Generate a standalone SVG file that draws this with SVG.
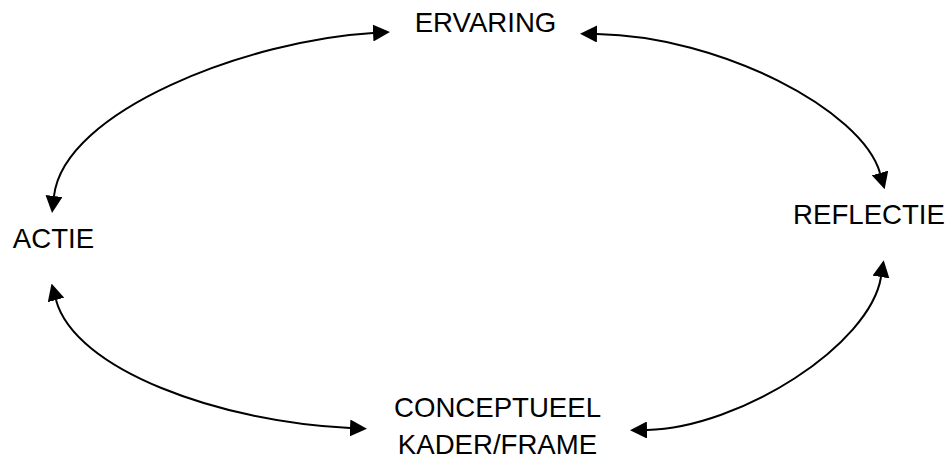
<svg xmlns="http://www.w3.org/2000/svg" width="949" height="459" viewBox="0 0 949 459">
<style>
.lbl{font-family:"Liberation Sans",Arial,sans-serif;font-size:27.6px;fill:#000;text-anchor:middle}
.arc{fill:none;stroke:#000;stroke-width:2;marker-start:url(#ah);marker-end:url(#ah)}
</style>
<defs>
<marker id="ah" markerUnits="userSpaceOnUse" markerWidth="17" markerHeight="17" viewBox="0 -8 16 16" refX="0" refY="0" orient="auto-start-reverse">
<path d="M0,-8 L16,0 L0,8 z" fill="#000"/>
</marker>
</defs>
<rect width="949" height="459" fill="#fff"/>
<g id="connectors">
<path class="arc" d="M373,33 C250,40 64,110 54,196"/>
<path class="arc" d="M597,34 C720,36 862,110 880,173"/>
<path class="arc" d="M881,277 C870,345 740,428 647,430"/>
<path class="arc" d="M56,300 C75,370 220,422 350,428"/>
</g>
<g id="ervaring"><text class="lbl" x="485.5" y="32">ERVARING</text></g>
<g id="actie"><text class="lbl" x="53.5" y="248">ACTIE</text></g>
<g id="reflectie"><text class="lbl" x="869" y="224">REFLECTIE</text></g>
<g id="conceptueel"><text class="lbl" x="497.5" y="417">CONCEPTUEEL</text><text class="lbl" x="497.5" y="454">KADER/FRAME</text></g>
</svg>
